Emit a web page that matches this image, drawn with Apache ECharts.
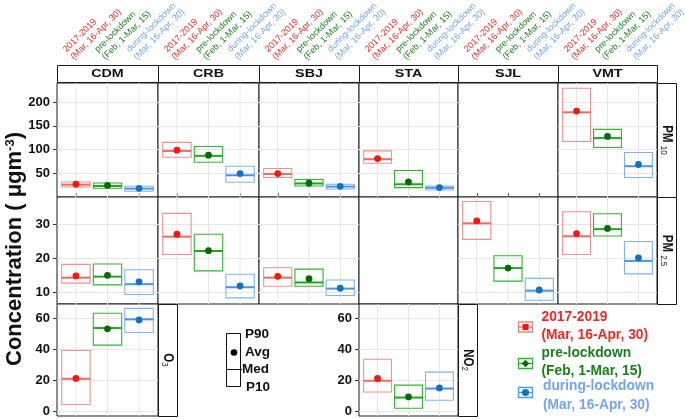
<!DOCTYPE html>
<html><head><meta charset="utf-8">
<script src="https://cdn.jsdelivr.net/npm/echarts@6/dist/echarts.min.js"></script>
<style>html,body{margin:0;padding:0;background:#fff}#c{width:685px;height:419px}</style>
</head><body><div id="c"></div><script>
// ---------- DATA ----------
const sites = ['CDM','CRB','SBJ','STA','SJL','VMT'];
const periods = ['2017-2019\n(Mar, 16-Apr, 30)','pre-lockdown\n(Feb, 1-Mar, 15)','during-lockdown\n(Mar, 16-Apr, 30)'];
const legendLines = [['2017-2019','(Mar, 16-Apr, 30)'],['pre-lockdown','(Feb, 1-Mar, 15)'],['during-lockdown','(Mar, 16-Apr, 30)']];
// PM10  [site][period]
const pm10P10 = [[21,18.3,12],[83.8,73.2,31],[40.9,23.2,16.8],[71.1,19.8,14.7],null,[117,104.3,40.9]];
const pm10Med = [[26,23.2,17.6],[97,86.6,45.8],[48.5,28.5,21.9],[79.6,26.8,19.4],null,[178.3,124,64.8]];
const pm10Avg = [[26.8,24.6,18.3],[98.6,88,49.3],[49.3,29,22.5],[81,31.6,19.8],null,[181,127.5,68.4]];
const pm10P90 = [[31.6,29.5,22.5],[114.9,106.4,64.8],[60,36.7,26.8],[97.1,55.7,23.2],null,[229,142.3,93.7]];
// PM2.5 [site][period]
const pm25P10 = [[12.8,12.3,9.5],[21.2,16.4,8.5],[11.9,11.9,9.2],null,[25.6,13.4,7.8],[21.2,26.6,15.5]];
const pm25Med = [[14.4,14.7,12.5],[26.4,22.2,11.6],[14.4,13.0,11.2],null,[30.3,17.2,10.6],[26.5,28.6,19.3]];
const pm25Avg = [[14.9,15.1,13.2],[27.1,22.3,12.0],[14.8,14.1,11.3],null,[31.0,17.2,10.8],[27.3,28.8,20.2]];
const pm25P90 = [[18.3,18.4,16.7],[33.2,27.1,15.4],[17.3,16.9,13.7],null,[36.7,20.8,14.2],[33.7,33.1,25.0]];
// O3 at CDM, NO2 at STA [period]
const o3P10 = [4.2,42.5,50.6], o3Med = [20.8,53.5,59.1], o3Avg = [21.0,53.0,58.7], o3P90 = [39.0,63.0,66.2];
const no2P10 = [12.3,1.8,7.0], no2Med = [19.5,8.7,14.5], no2Avg = [21.0,9.1,14.9], no2P90 = [33.4,16.7,25.1];
// y tick labels per row
const yTicks = [[50,100,150,200],[10,20,30],[0,20,40,60]];

// ---------- STYLE / LAYOUT ----------
const FONT = '"Liberation Sans", Arial, Helvetica, sans-serif';
const boxStroke = ['#F3908A','#2DB52D','#80B2F2'];
const medStroke = ['#F06A64','#1FA81F','#4B92EA'];
const dotFill = ['#F0180F','#0A6A0A','#1172C0'];
const textCol = ['#EE2A22','#1A7E1A','#74A4F0'];
const gridCol = '#E6E6E6';
const cols = [57,158,259,359,458,558,657];
const rowsLayout = [{top:83,bottom:197},{top:197,bottom:304},{top:304,bottom:416}];
const rowScale = [{min:0,max:240,step:25},{min:6.7,max:38,step:5},{min:-3.2,max:69,step:10}];

function renderItem(params, api){
  const xi = api.value(0), j = xi - 1;
  const x = api.coord([xi, api.value(1)])[0];
  const yP10 = api.coord([xi, api.value(1)])[1];
  const yMed = api.coord([xi, api.value(2)])[1];
  const yAvg = api.coord([xi, api.value(3)])[1];
  const yP90 = api.coord([xi, api.value(4)])[1];
  const w = api.size([0.9, 0])[0];
  const cs = params.coordSys;
  return {type:'group', children:[
    {type:'line', shape:{x1:x,y1:cs.y,x2:x,y2:cs.y+cs.height}, style:{stroke:gridCol,lineWidth:1}},
    {type:'rect', shape:{x:x-w/2,y:yP90,width:w,height:yP10-yP90}, style:{fill:'none',stroke:boxStroke[j],lineWidth:1.1}},
    {type:'line', shape:{x1:x-w/2,y1:yMed,x2:x+w/2,y2:yMed}, style:{stroke:medStroke[j],lineWidth:2}},
    {type:'circle', shape:{cx:x,cy:yAvg,r:3.4}, style:{fill:dotFill[j]}}
  ]};
}

const option = {animation:false, textStyle:{fontFamily:FONT}, grid:[], xAxis:[], yAxis:[], series:[], graphic:{elements:[]}};

function addPanel(col, row, st, showY){
  const g = option.grid.length;
  const L = rowsLayout[row], sc = rowScale[row];
  option.grid.push({left:cols[col], top:L.top, width:cols[col+1]-cols[col], height:L.bottom-L.top,
    show:true, borderColor:'#1a1a1a', borderWidth:1, backgroundColor:'#fff', containLabel:false, outerBoundsMode:'none'});
  const x = {gridIndex:g, type:'value', min:0.4, max:3.6, splitLine:{show:false}, axisLine:{show:false}, axisTick:{show:false}, axisLabel:{show:false}};
  if (row === 0) {
    Object.assign(x, {position:'top', offset:17,
      axisTick:{show:true, customValues:[1,2,3], length:4, lineStyle:{color:'#555'}},
      axisLabel:{show:true, customValues:[1,2,3], rotate:45, align:'left', verticalAlign:'bottom', margin:4,
        fontSize:9, lineHeight:10.5, fontFamily:FONT,
        formatter: v => periods[Math.round(+v)-1],
        color: v => textCol[Math.round(+v)-1]}});
  }
  option.xAxis.push(x);
  option.yAxis.push({gridIndex:g, type:'value', min:sc.min, max:sc.max, minInterval:sc.step, maxInterval:sc.step,
    axisLine:{show:false},
    splitLine:{show:!!st, lineStyle:{color:gridCol, width:1}},
    axisTick:{show:showY, customValues:yTicks[row], length:4, lineStyle:{color:'#333'}},
    axisLabel:{show:showY, customValues:yTicks[row], margin:7, fontSize:13, fontWeight:'bold', color:'#111', fontFamily:FONT}});
  if (st) {
    option.series.push({type:'custom', coordinateSystem:'cartesian2d', xAxisIndex:g, yAxisIndex:g, renderItem, z:3,
      data: periods.map((p, j) => [j+1, st[0][j], st[1][j], st[2][j], st[3][j]]),
      encode:{x:0, y:[1,2,3,4]}});
  }
}
function siteStats(a, b, c, d, s){ return a[s] ? [a[s], b[s], c[s], d[s]] : null; }

sites.forEach((s, i) => addPanel(i, 0, siteStats(pm10P10, pm10Med, pm10Avg, pm10P90, i), i === 0));
sites.forEach((s, i) => addPanel(i, 1, siteStats(pm25P10, pm25Med, pm25Avg, pm25P90, i), i === 0));
addPanel(0, 2, [o3P10, o3Med, o3Avg, o3P90], true);
addPanel(3, 2, [no2P10, no2Med, no2Avg, no2P90], true);

const G = option.graphic.elements;
// strip headers
sites.forEach((s, i) => {
  G.push({type:'rect', shape:{x:cols[i]+0.5, y:65.5, width:cols[i+1]-cols[i], height:17}, style:{fill:'#fff', stroke:'#1a1a1a', lineWidth:1}, z:10});
  G.push({type:'text', x:(cols[i]+cols[i+1])/2, y:74.5, scaleX:1.36, z:11,
    style:{text:s, fontSize:10.5, fontWeight:'bold', fill:'#111', align:'center', verticalAlign:'middle', fontFamily:FONT}});
});
// row strips
function rowStrip(x0, y0, y1, main, sub){
  G.push({type:'rect', shape:{x:x0+0.5, y:y0+0.5, width:19, height:y1-y0}, style:{fill:'#fff', stroke:'#1a1a1a', lineWidth:1}, z:10});
  G.push({type:'text', x:x0+9.5, y:(y0+y1)/2, rotation:-Math.PI/2, scaleY:1.2, z:11,
    style:{text:'{a|'+main+'}{b|'+sub+'}', align:'center', verticalAlign:'middle', fontFamily:FONT,
      rich:{a:{fontSize:11.5, fontWeight:'bold', fill:'#111', verticalAlign:'bottom', fontFamily:FONT},
            b:{fontSize:8, fill:'#111', verticalAlign:'bottom', fontFamily:FONT}}}});
}
rowStrip(657, 83, 197, 'PM ', '10');
rowStrip(657, 197, 304, 'PM ', '2.5');
rowStrip(158, 304, 416, 'O', '3');
rowStrip(458, 304, 416, 'NO', '2');
// y title
G.push({type:'text', x:15, y:249, rotation:Math.PI/2, z:11,
  style:{text:'{a|Concentration ( μgm}{s|-3}{a|)}', align:'center', verticalAlign:'middle', fontFamily:FONT,
    rich:{a:{fontSize:22, fontWeight:'bold', fill:'#111', fontFamily:FONT, verticalAlign:'bottom'},
          s:{fontSize:13, fontWeight:'bold', fill:'#111', fontFamily:FONT, verticalAlign:'top'}}}});
// key box
G.push({type:'rect', shape:{x:226.5, y:333.5, width:14, height:53}, style:{fill:'none', stroke:'#111', lineWidth:1}});
G.push({type:'circle', shape:{cx:234, cy:352.5, r:3.3}, style:{fill:'#000'}});
G.push({type:'line', shape:{x1:226.5, y1:369.5, x2:242, y2:369.5}, style:{stroke:'#111', lineWidth:1}});
[['P90',245,334],['Avg',245,352.5],['Med',242,369.5],['P10',246,387]].forEach(t => {
  G.push({type:'text', x:t[1], y:t[2], style:{text:t[0], fontSize:13.5, fontWeight:'bold', fill:'#111', align:'left', verticalAlign:'middle', fontFamily:FONT}});
});
// legend
const legIconY = [327, 363.5, 392.5], legTextY = [326, 362, 395.5], legTextX = [541.5, 541.5, 543];
const legIconStroke = ['#F0847C','#2DB52D','#3F9EF0'];
legendLines.forEach((ln, j) => {
  const cy = legIconY[j];
  G.push({type:'rect', shape:{x:518.5, y:cy-5, width:14, height:10}, style:{fill:'#fff', stroke:legIconStroke[j], lineWidth:1.3}});
  G.push({type:'line', shape:{x1:518.5, y1:cy, x2:532.5, y2:cy}, style:{stroke:medStroke[j], lineWidth:1.3}});
  if (j === 0) G.push({type:'rect', shape:{x:522.5, y:cy-3, width:6, height:6}, style:{fill:dotFill[0]}});
  if (j === 1) G.push({type:'polygon', shape:{points:[[525.5,cy-3.8],[529.3,cy],[525.5,cy+3.8],[521.7,cy]]}, style:{fill:dotFill[1]}});
  if (j === 2) G.push({type:'circle', shape:{cx:525.5, cy:cy, r:3.6}, style:{fill:dotFill[2]}});
  G.push({type:'text', x:legTextX[j], y:legTextY[j], style:{text:ln.join('\n'), fontSize:13.8, lineHeight:18.5, fontWeight:'bold', fill:textCol[j], align:'left', verticalAlign:'middle', fontFamily:FONT}});
});

const chart = echarts.init(document.getElementById('c'), null, {renderer:'canvas'});
chart.setOption(option);
</script></body></html>
